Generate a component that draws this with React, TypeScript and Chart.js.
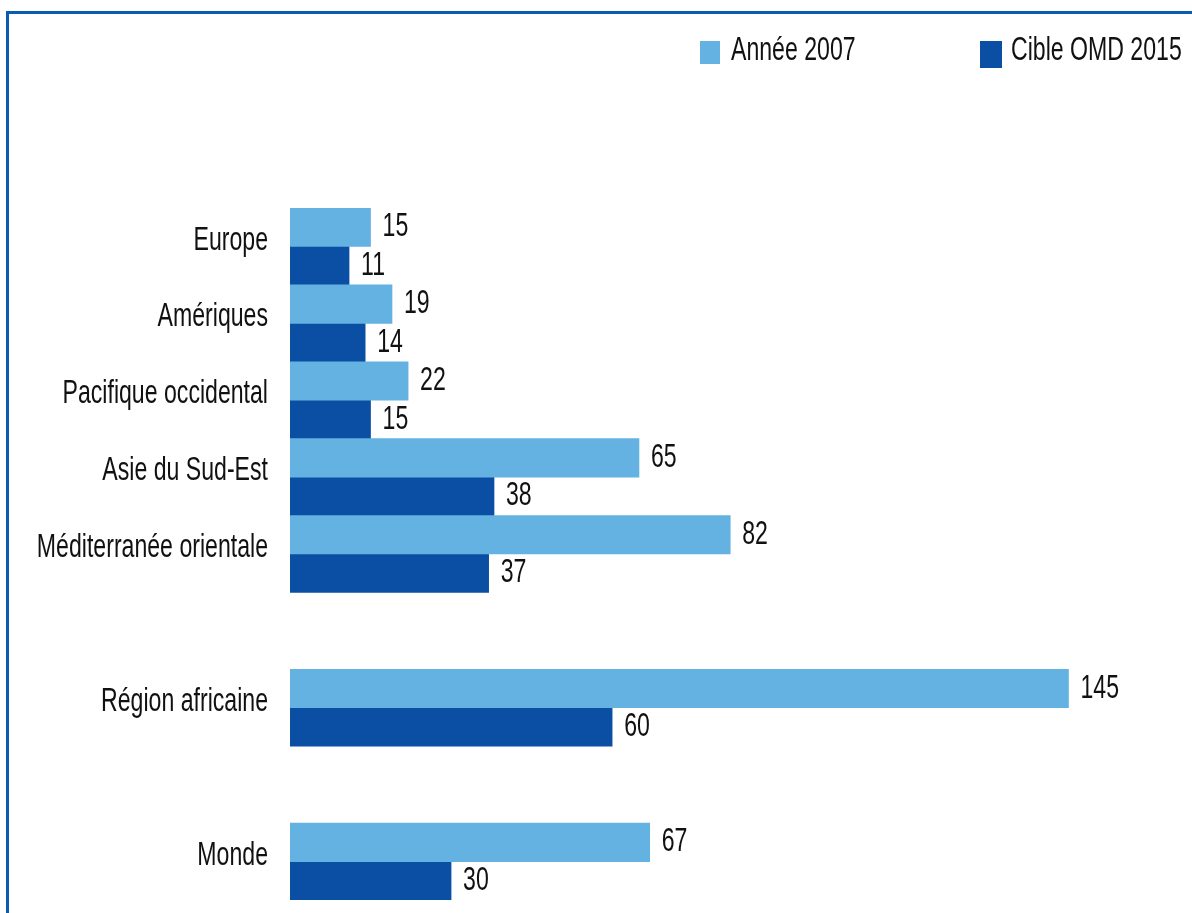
import React, { useEffect, useRef } from "react";
import { Chart, registerables } from "chart.js";

Chart.register(...registerables);

const categories = [
  "Europe",
  "Amériques",
  "Pacifique occidental",
  "Asie du Sud-Est",
  "Méditerranée orientale",
  "",
  "Région africaine",
  "",
  "Monde",
];
const annee2007: (number | null)[] = [15, 19, 22, 65, 82, null, 145, null, 67];
const cible2015: (number | null)[] = [11, 14, 15, 38, 37, null, 60, null, 30];
const seriesNames = ["Année 2007", "Cible OMD 2015"];
const LIGHT = "#63b2e2";
const DARK = "#0a4fa3";
const FONT = "'Liberation Sans', Arial, sans-serif";
const FONT_SIZE = 33;
const SX = 0.7; // horizontal condensing of the text

function condensedText(ctx: CanvasRenderingContext2D, text: string, x: number, y: number) {
  ctx.save();
  ctx.translate(x, y);
  ctx.scale(SX, 1);
  ctx.fillText(text, 0, 0);
  ctx.restore();
}

const framePlugin = {
  id: "frame",
  beforeDraw(chart: any) {
    const ctx = chart.ctx;
    ctx.save();
    ctx.fillStyle = "#ffffff";
    ctx.fillRect(0, 0, chart.width, chart.height);
    ctx.fillStyle = "#0b5ab4";
    ctx.fillRect(6, 11, chart.width, 3);
    ctx.fillRect(6, 11, 3, chart.height);
    ctx.restore();
    // condense the y-axis tick labels horizontally, anchored on their right edge
    const ys = chart.scales.y;
    if (ys && !ys.__condensed) {
      const orig = ys.drawLabels.bind(ys);
      ys.drawLabels = (area: any) => {
        const anchor = ys.right - ys.options.ticks.padding;
        const c = chart.ctx;
        const savedLeft = ys.left;
        ys.left = -3000; // widen the label clip region so the condensed labels are not cut
        c.save();
        c.translate(anchor, 0);
        c.scale(SX, 1);
        c.translate(-anchor, 0);
        orig(area);
        c.restore();
        ys.left = savedLeft;
      };
      ys.__condensed = true;
    }
  },
};

const legendPlugin = {
  id: "customLegend",
  afterDraw(chart: any) {
    const ctx = chart.ctx;
    ctx.save();
    ctx.font = `${FONT_SIZE}px ${FONT}`;
    ctx.textBaseline = "alphabetic";
    ctx.textAlign = "left";
    ctx.fillStyle = LIGHT;
    ctx.fillRect(700, 41, 20, 23);
    ctx.fillStyle = "#111";
    condensedText(ctx, seriesNames[0], 731, 60);
    ctx.fillStyle = DARK;
    ctx.fillRect(980, 41, 22, 27);
    ctx.fillStyle = "#111";
    condensedText(ctx, seriesNames[1], 1011, 60);
    ctx.restore();
  },
};

const valueLabelPlugin = {
  id: "valueLabels",
  afterDatasetsDraw(chart: any) {
    const ctx = chart.ctx;
    ctx.save();
    ctx.font = `${FONT_SIZE}px ${FONT}`;
    ctx.textBaseline = "middle";
    ctx.textAlign = "left";
    ctx.fillStyle = "#111";
    chart.data.datasets.forEach((ds: any, di: number) => {
      const meta = chart.getDatasetMeta(di);
      meta.data.forEach((bar: any, i: number) => {
        const v = ds.data[i];
        if (v === null || v === undefined) return;
        condensedText(ctx, String(v), bar.x + 12, bar.y);
      });
    });
    ctx.restore();
  },
};

export default function App() {
  const ref = useRef<HTMLCanvasElement | null>(null);
  useEffect(() => {
    if (!ref.current) return;
    const chart = new Chart(ref.current, {
      type: "bar",
      data: {
        labels: categories,
        datasets: [
          {
            label: seriesNames[0],
            data: annee2007,
            backgroundColor: LIGHT,
            barPercentage: 1,
            categoryPercentage: 1,
          },
          {
            label: seriesNames[1],
            data: cible2015,
            backgroundColor: DARK,
            barPercentage: 1,
            categoryPercentage: 1,
          },
        ],
      },
      options: {
        indexAxis: "y",
        responsive: false,
        animation: false,
        layout: { padding: { top: 208, bottom: 13, left: 0, right: 43 } },
        plugins: {
          legend: { display: false },
          tooltip: { enabled: false },
          title: { display: false },
        },
        scales: {
          x: { display: false, min: 0, max: 160 },
          y: {
            grid: { display: false, drawTicks: false },
            border: { display: false },
            ticks: {
              padding: 22,
              labelOffset: -6,
              color: "#111",
              font: { family: FONT, size: FONT_SIZE },
            },
            afterFit(scale: any) {
              scale.width = 290;
              scale.paddingTop = 0;
              scale.paddingBottom = 0;
            },
          },
        },
      },
      plugins: [framePlugin, legendPlugin, valueLabelPlugin],
    });
    return () => chart.destroy();
  }, []);
  return (
    <div style={{ position: "absolute", left: 0, top: 0, width: 1192, height: 913, overflow: "hidden" }}>
      <canvas ref={ref} width={1192} height={913} style={{ display: "block" }} />
    </div>
  );
}
